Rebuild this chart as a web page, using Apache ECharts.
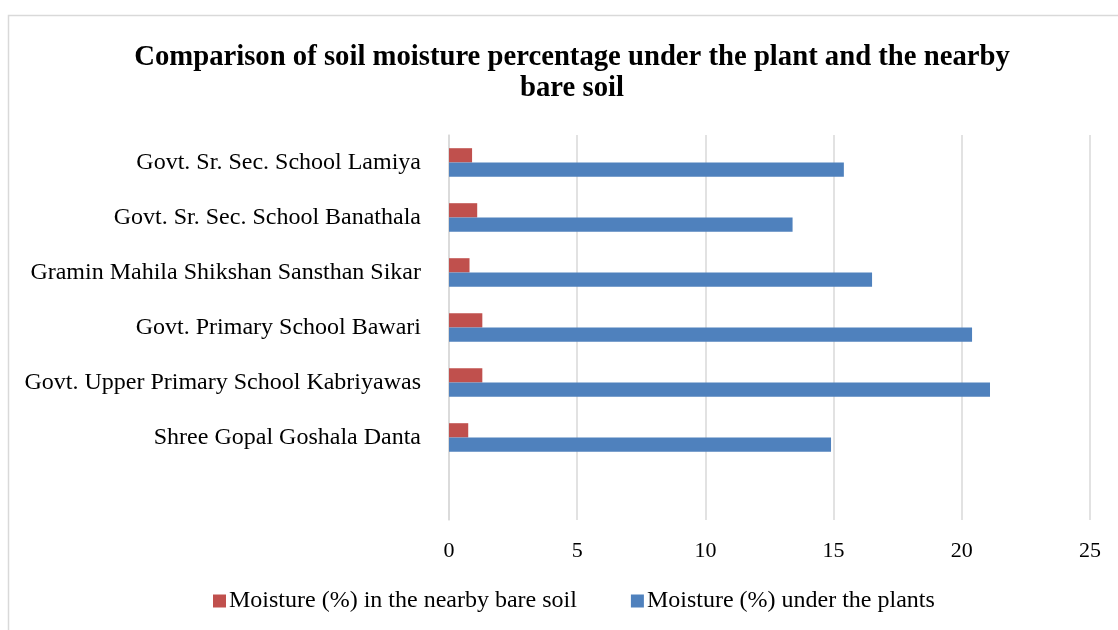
<!DOCTYPE html>
<html><head><meta charset="utf-8">
<script src="https://cdn.jsdelivr.net/npm/echarts@6/dist/echarts.min.js"></script>
<style>html,body{margin:0;padding:0;background:#fff}#c{width:1118px;height:630px}</style>
</head><body><div id="c"></div>
<script>
const categories = ['Govt. Sr. Sec. School Lamiya','Govt. Sr. Sec. School Banathala','Gramin Mahila Shikshan Sansthan Sikar','Govt. Primary School Bawari','Govt. Upper Primary School Kabriyawas','Shree Gopal Goshala Danta',''];
const bareSoil = [0.9, 1.1, 0.8, 1.3, 1.3, 0.75, null];
const underPlants = [15.4, 13.4, 16.5, 20.4, 21.1, 14.9, null];
const seriesNames = ['Moisture (%) in the nearby bare soil','Moisture (%) under the plants'];
const xTicks = [0, 5, 10, 15, 20, 25];

const font = '"Liberation Serif", "Times New Roman", serif';
const chart = echarts.init(document.getElementById('c'));
chart.setOption({
  animation: false,
  backgroundColor: '#fff',
  graphic: [{type:'rect', shape:{x:8.5,y:15.5,width:1300,height:700}, style:{fill:'none', stroke:'#d9d9d9', lineWidth:1.5}, silent:true}],
  title: {
    text: 'Comparison of soil moisture percentage under the plant and the nearby\nbare soil',
    left: 567, top: 37, textAlign: 'center',
    textStyle: {fontFamily: font, fontWeight: 'bold', fontSize: 28.7, lineHeight: 31, color: '#000'}
  },
  legend: {
    data: seriesNames, bottom: 12, left: 208, itemWidth: 13, itemHeight: 13, itemGap: 54,
    icon: 'rect',
    textStyle: {fontFamily: font, fontSize: 24, color: '#000', padding:[0,0,0,-2]}
  },
  grid: {left: 449, right: 28, top: 135, bottom: 110, containLabel: false},
  xAxis: {
    type: 'value', min: xTicks[0], max: xTicks[xTicks.length-1], interval: 5,
    axisLine: {show: false}, axisTick: {show: false},
    axisLabel: {fontFamily: font, fontSize: 22, color: '#000', margin: 20},
    splitLine: {lineStyle: {color: '#d9d9d9', width: 1.5}}
  },
  yAxis: {
    type: 'category', data: categories, inverse: true,
    axisLine: {lineStyle: {color: '#d9d9d9', width: 1.5}}, axisTick: {show: false},
    axisLabel: {fontFamily: font, fontSize: 24, color: '#000', margin: 28}
  },
  series: [
    {name: seriesNames[0], type: 'bar', data: bareSoil, barWidth: 14.3, barGap: '0%', itemStyle: {color: '#C0504D'}},
    {name: seriesNames[1], type: 'bar', data: underPlants, barWidth: 14.3, barGap: '0%', itemStyle: {color: '#4F81BD'}}
  ]
});
</script></body></html>
